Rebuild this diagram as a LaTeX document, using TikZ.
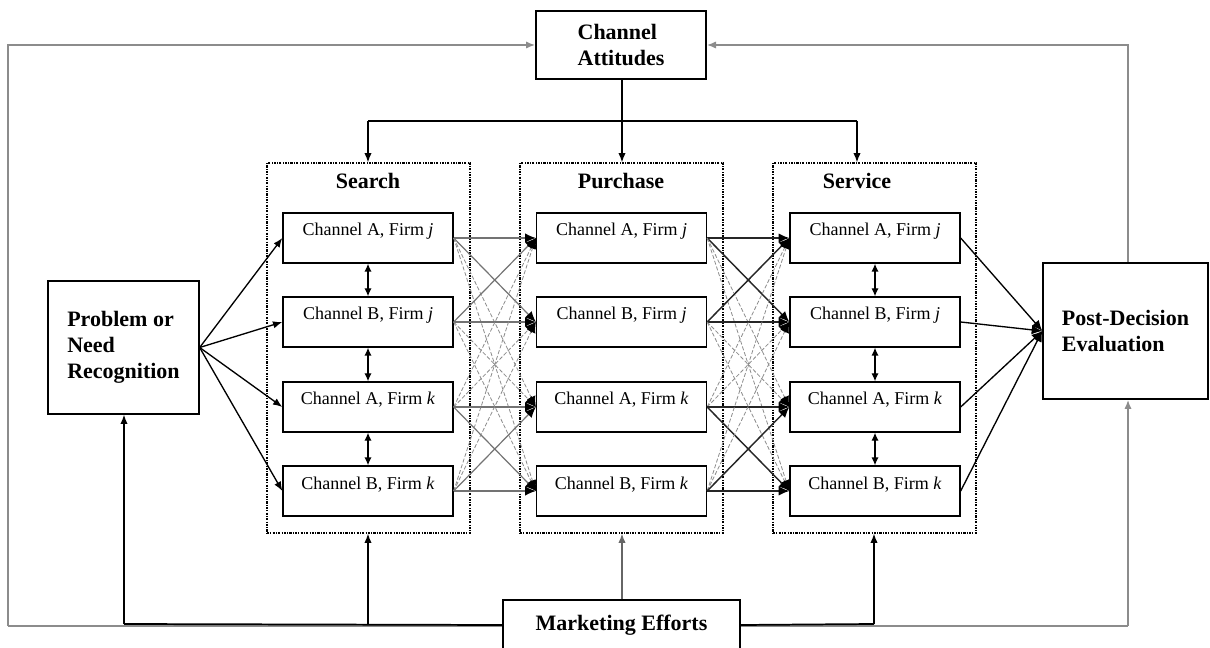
\documentclass[tikz,border=0pt]{standalone}
\usepackage{fontspec}
\setmainfont{Liberation Serif}
\usetikzlibrary{arrows.meta,backgrounds}
\begin{document}
\begin{tikzpicture}[x=0.75pt,y=-0.75pt,
  chbox/.style={draw,line width=1pt,minimum width={170*0.75pt},minimum height={50*0.75pt},inner sep=0pt},
  chtext/.style={anchor=base,inner sep=0pt,font=\fontsize{13.5}{16}\selectfont},
  bigbox/.style={draw,fill=white,line width=1pt,inner sep=0pt,align=left,font=\fontsize{16.5}{19.5}\selectfont\bfseries},
  title/.style={anchor=base,inner sep=0pt,font=\fontsize{16.5}{19.5}\selectfont\bfseries},
  dotbox/.style={draw,line width=0.9pt,dash pattern=on 1.6pt off 1pt on 0.6pt off 1pt,minimum width={203*0.75pt},minimum height={370*0.75pt},inner sep=0pt},
  arr/.style={-{Latex[length=7pt,width=5.5pt]}},
  blk/.style={line width=1pt,black},
  gry/.style={line width=1.6pt,black!45},
  tip/.style={-{Latex[length=8pt,width=7pt,color=black]}},
  solA/.style={line width=0.9pt,black!55},
  solB/.style={line width=1.1pt,black!85},
  dsh/.style={line width=0.6pt,black!45,dash pattern=on 3pt off 1.5pt}
]
\useasboundingbox (0,0) rectangle (1210,648);

% big boxes
\node[bigbox,minimum width={170*0.75pt},minimum height={68*0.75pt}] (ca) at (621,45) {Channel\\Attitudes};
\node[bigbox,minimum width={151*0.75pt},minimum height={133*0.75pt}] (prob) at (123.5,347.5) {Problem or\\Need\\Recognition};
\node[bigbox,minimum width={165*0.75pt},minimum height={136*0.75pt}] (pde) at (1125.5,331) {Post-Decision\\Evaluation};
\node[bigbox,minimum width={237*0.75pt},minimum height={50*0.75pt}] (me) at (621.5,625) {Marketing Efforts};

% dotted stage boxes
\node[dotbox] (sd) at (368.5,348) {};
\node[dotbox] (pd) at (621.5,348) {};
\node[dotbox] (vd) at (874.5,348) {};
\node[title] (st) at (368,189) {Search};
\node[title] (pt) at (621,189) {Purchase};
\node[title] (vt) at (857,189) {Service};

% channel boxes
\foreach \c/\x in {s/368,p/621.5,v/875}{
  \foreach \r/\y/\lab in {1/238/{Channel A, Firm \textit{j}},2/322/{Channel B, Firm \textit{j}},3/407/{Channel A, Firm \textit{k}},4/491/{Channel B, Firm \textit{k}}}{
    \node[chbox] (\c\r) at (\x,\y) {};
    \node[chtext] (\c\r t) at ([yshift=1.5pt]\c\r.center) {\lab};
  }
}

% vertical double arrows
\foreach \c in {s,v}{
  \draw[blk,{Latex[length=6pt,width=5.5pt]}-{Latex[length=6pt,width=5.5pt]}] (\c1.south) -- (\c2.north);
  \draw[blk,{Latex[length=6pt,width=5.5pt]}-{Latex[length=6pt,width=5.5pt]}] (\c2.south) -- (\c3.north);
  \draw[blk,{Latex[length=6pt,width=5.5pt]}-{Latex[length=6pt,width=5.5pt]}] (\c3.south) -- (\c4.north);
}

% problem -> search
\foreach \r in {1,2,3,4}{
  \draw[blk,arr] (prob.east) -- (s\r.west);
}

% crossing connectors
\foreach \i in {1,2,3,4}{
  \foreach \j in {1,2,3,4}{
    \pgfmathtruncatemacro\fa{(\i+1)/2}
    \pgfmathtruncatemacro\fb{(\j+1)/2}
    \ifnum\fa=\fb
      \draw[solA,tip] (s\i.east) -- (p\j.west);
      \draw[solB,tip] (p\i.east) -- (v\j.west);
    \else
      \draw[dsh,tip] (s\i.east) -- (p\j.west);
      \draw[dsh,tip] (p\i.east) -- (v\j.west);
    \fi
  }
}

% service -> post-decision
\foreach \r in {1,2,3,4}{
  \draw[blk,tip] (v\r.east) -- (pde.west);
}

% channel attitudes -> stages
\coordinate (hl) at (368,121);
\coordinate (hr) at (857,121);
\coordinate (hm) at (622,121);
\draw[blk] (hl) -- (hr);
\draw[blk,arr] (ca.south -| hm) -- (hm |- pd.north);
\draw[blk,arr] (hl) -- (hl |- sd.north);
\draw[blk,arr] (hr) -- (hr |- vd.north);

% gray feedback loop and marketing lines (behind boxes)
\coordinate (tl) at (8,45);
\coordinate (tr) at (1128,45);
\coordinate (bl) at (8,626);
\coordinate (br) at (1128,626);
\coordinate (b1) at (124,624);
\coordinate (b2) at (368,624);
\coordinate (b3) at (874,624);
\coordinate (bm) at (622,600);
\begin{scope}[on background layer]
\draw[gry,arr] (bl) -- (tl) -- (ca.west);
\draw[gry,arr] (tr |- pde.north) -- (tr) -- (ca.east);
\draw[gry] (bl) -- (br);
\draw[gry,arr] (br) -- (br |- pde.south);
\draw[blk,line width=1.3pt] (me.west) -- (b1);
\draw[blk,line width=1.3pt] (me.east) -- (b3);
\end{scope}
\draw[blk,arr] (b1) -- (b1 |- prob.south);
\draw[blk,arr] (b2) -- (b2 |- sd.south);
\draw[blk,arr] (b3) -- (b3 |- vd.south);
\draw[line width=1pt,black!60,arr] (me.north -| bm) -- (bm |- pd.south);
\end{tikzpicture}
\end{document}
